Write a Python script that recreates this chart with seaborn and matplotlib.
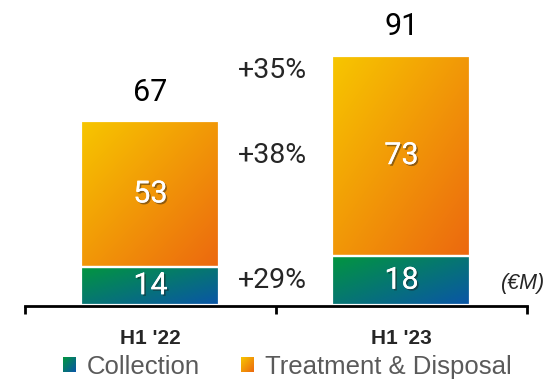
import numpy as np
import pandas as pd
import matplotlib
matplotlib.use("Agg")
import matplotlib.pyplot as plt
import matplotlib.patheffects as pe
from matplotlib.patches import Patch
from matplotlib.legend_handler import HandlerBase
from matplotlib.image import BboxImage
from matplotlib.transforms import Bbox, TransformedBbox
from matplotlib.colors import to_rgb
import seaborn as sns

periods = ["H1 '22", "H1 '23"]
collection = [14, 18]
treatment = [53, 73]
growth = ["+29%", "+38%", "+35%"]   # collection, treatment, total
unit_label = "(€M)"
series_names = ["Collection", "Treatment & Disposal"]

df = pd.DataFrame({"period": periods, "collection": collection, "treatment": treatment})
df["total"] = df["collection"] + df["treatment"]

coll_cols = ("#02963e", "#0a55a8")
treat_cols = ("#f7c600", "#ec680f")

sns.set_theme(style="white")
plt.rcParams["font.family"] = ["Roboto", "DejaVu Sans"]


def grad_array(c0, c1, n=64):
    # diagonal gradient, c0 top-left -> c1 bottom-right
    u = np.linspace(0, 1, n)
    uu, vv = np.meshgrid(u, u)
    t = (uu + vv) / 2
    a, b = np.array(to_rgb(c0)), np.array(to_rgb(c1))
    return a[None, None, :] * (1 - t[..., None]) + b[None, None, :] * t[..., None]


fig = plt.figure(figsize=(5.52, 3.83), dpi=100)
ax = fig.add_axes([0, 0, 1, 1])

sns.barplot(data=df, x="period", y="total", color=treat_cols[0], width=0.55, ax=ax)
sns.barplot(data=df, x="period", y="collection", color=coll_cols[0], width=0.55, ax=ax)

n = len(periods)
for i, p in enumerate(ax.patches):
    cols = treat_cols if i < n else coll_cols
    x0, y0 = p.get_x(), p.get_y()
    w, h = p.get_width(), p.get_height()
    if i < n:
        # upper segment only (above collection)
        y0 = collection[i]
        h = treatment[i]
        p.set_y(y0)
        p.set_height(h)
    img = ax.imshow(grad_array(*cols), extent=[x0, x0 + w, y0, y0 + h], origin="upper",
                    aspect="auto", interpolation="bilinear", zorder=1.5)
    img.set_clip_path(p)
    p.set_facecolor("none")
    p.set_edgecolor("white")
    p.set_linewidth(1.6)
    p.set_zorder(2)

shadow = [pe.withSimplePatchShadow(offset=(1.2, -1.2), shadow_rgbFace="k", alpha=0.45), pe.Normal()]
for i in range(n):
    ax.text(i, collection[i] / 2, str(collection[i]), color="white", fontsize=22,
            ha="center", va="center", zorder=3, path_effects=shadow)
    ax.text(i, collection[i] + treatment[i] / 2, str(treatment[i]), color="white", fontsize=22,
            ha="center", va="center", zorder=3, path_effects=shadow)
    ax.text(i, df["total"][i] + 7.5, str(df["total"][i]), color="black", fontsize=22,
            ha="center", va="baseline", zorder=3)

# growth labels between the bars, aligned to the H1 '23 segments
gx = 0.488
ax.text(gx, collection[1] / 2, growth[0], fontsize=20.5, ha="center", va="center")
ax.text(gx, collection[1] + treatment[1] / 2, growth[1], fontsize=20.5, ha="center", va="center")
ax.text(gx, df["total"][1] - 5.5, growth[2], fontsize=20.5, ha="center", va="center")

ax.text(1.572, 8.0, unit_label, fontsize=15.5, style="italic", ha="right", va="center",
        family=["Liberation Sans", "DejaVu Sans"])

ax.set_xlim(-0.599, 1.6)
ax.set_ylim(-28.5, 111.3)
for s in ["top", "left", "right"]:
    ax.spines[s].set_visible(False)
ax.spines["bottom"].set_position(("data", -0.3))
ax.spines["bottom"].set_bounds(-0.5, 1.5)
ax.spines["bottom"].set_color("black")
ax.spines["bottom"].set_linewidth(2)
ax.set_yticks([])
ax.set_xticks([-0.5, 0.5, 1.5])
ax.set_xticklabels([])
ax.tick_params(axis="x", which="major", direction="out", length=6, width=2, color="black", bottom=True)
ax.set_xticks([0, 1], minor=True)
ax.set_xticklabels(periods, minor=True, fontsize=15, fontweight="bold",
                   family=["Liberation Sans", "DejaVu Sans"])
ax.tick_params(axis="x", which="minor", length=0, pad=17)
ax.set_xlabel("")
ax.set_ylabel("")


class GradHandler(HandlerBase):
    def __init__(self, cols):
        super().__init__()
        self.cols = cols

    def create_artists(self, legend, orig_handle, xdescent, ydescent, width, height, fontsize, trans):
        bb = TransformedBbox(Bbox.from_bounds(-xdescent, -ydescent, width, height), trans)
        im = BboxImage(bb, interpolation="bilinear")
        im.set_data(grad_array(*self.cols))
        return [im]


h1 = Patch(label=series_names[0])
h2 = Patch(label=series_names[1])
fig.legend(handles=[h1, h2], handler_map={h1: GradHandler(coll_cols), h2: GradHandler(treat_cols)},
           loc="center", bbox_to_anchor=(287 / 552, 16 / 383), ncol=2, frameon=False,
           handlelength=0.48, handleheight=0.48, handletextpad=0.45, columnspacing=1.6,
           prop={"family": ["Liberation Sans", "DejaVu Sans"], "size": 18.5}, labelcolor="#5a5a5a")

fig.savefig("out.png", dpi=100)
